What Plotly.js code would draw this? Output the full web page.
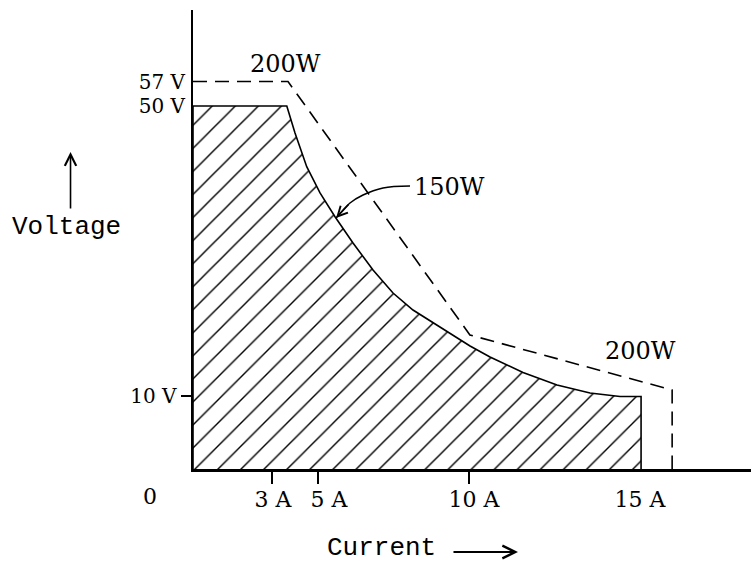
<!DOCTYPE html>
<html><head><meta charset="utf-8">
<script src="https://cdn.plot.ly/plotly-3.0.1.min.js"></script>
<style>html,body{margin:0;padding:0;background:#fff}#chart{width:751px;height:564px}</style>
</head><body><div id="chart"></div>
<script>
// Schematic drawing: current/voltage positions (15 A point = 15, 50 V line = 50)
const regionCurrent = [0, 0, 3.14, 3.415, 3.807, 4.252, 4.754, 5.357, 6.026, 6.696, 7.365, 7.934, 8.269, 9.274, 9.943, 11.048, 12.186, 13.291, 14.295, 15.0, 15.0];
const regionVoltage = [0, 50, 50, 46.28, 41.64, 38.02, 34.75, 31.13, 27.41, 24.24, 21.90, 20.39, 19.49, 16.94, 15.43, 13.29, 11.57, 10.47, 9.98, 9.98, 0];

const limitCurrent = [0, 3.18, 9.27, 16.04, 16.04];
const limitVoltage = [53.37, 53.37, 18.46, 10.88, 0];

const arrow150Current = [7.265, 6.361, 5.691, 5.256, 4.79];
const arrow150Voltage = [38.98, 38.71, 37.74, 36.64, 34.57];

const currentTickPos = [2.645, 4.18, 9.24];
const currentLabelPos = [2.678, 4.553, 9.407, 14.965];
const currentLabels = ['3 A', '5 A', '10 A', '15 A'];

const voltageTickPos = [10.06];
const voltageTickLabels = ['10 V'];
const voltageLabelPos = [49.95, 53.35];
const voltageLabels = ['50 V', '57 V'];

const powerLabels = ['200W', '150W', '200W'];

const XR = [0, 18.68], YR = [0, 63.22];
const serifFam = 'DejaVu Serif, serif';
const ySerif = {family: serifFam, size: 20, color: '#000'};
const xSerif = {family: serifFam, size: 22, color: '#000'};
const pSerif = {family: serifFam, size: 24, color: '#000'};
const mono = {family: 'Liberation Mono, monospace', size: 26, color: '#000'};

const traces = [
  {x: regionCurrent, y: regionVoltage, type: 'scatter', mode: 'lines', fill: 'toself',
   fillcolor: 'rgba(0,0,0,0)',
   fillpattern: {shape: '/', size: 16.3, solidity: 0.085, fgcolor: '#000', bgcolor: '#fff'},
   line: {color: '#000', width: 1.6}, hoverinfo: 'skip'},
  {x: limitCurrent, y: limitVoltage, xaxis: 'x2', yaxis: 'y2', type: 'scatter', mode: 'lines',
   line: {color: '#000', width: 1.6, dash: '14px,8px'}, hoverinfo: 'skip'},
  {x: arrow150Current, y: arrow150Voltage, type: 'scatter', mode: 'lines',
   line: {color: '#000', width: 1.5, shape: 'spline'}, hoverinfo: 'skip'}
];

const baseAxis = {showgrid: false, zeroline: false, fixedrange: true, color: '#000'};

const layout = {
  width: 751, height: 564,
  margin: {l: 193, r: 0, t: 10, b: 95, pad: 0},
  paper_bgcolor: '#fff', plot_bgcolor: '#fff',
  showlegend: false,
  xaxis: Object.assign({}, baseAxis, {range: XR, showline: true, linecolor: '#000', linewidth: 2.5,
    ticks: 'outside', ticklen: 12, tickwidth: 1.5, tickcolor: '#000',
    tickmode: 'array', tickvals: currentTickPos, showticklabels: false}),
  xaxis2: Object.assign({}, baseAxis, {range: XR, overlaying: 'x', anchor: 'y', side: 'bottom',
    showline: false, ticks: '', tickmode: 'array', tickvals: currentLabelPos, ticktext: currentLabels,
    tickfont: xSerif, ticklabelstandoff: 15}),
  yaxis: Object.assign({}, baseAxis, {range: YR, showline: true, linecolor: '#000', linewidth: 2.5,
    ticks: 'outside', ticklen: 10, tickwidth: 1.5, tickcolor: '#000',
    tickmode: 'array', tickvals: voltageTickPos, ticktext: voltageTickLabels, tickfont: ySerif}),
  yaxis2: Object.assign({}, baseAxis, {range: YR, overlaying: 'y', anchor: 'x', side: 'left',
    showline: false, ticks: '', tickmode: 'array', tickvals: voltageLabelPos, ticktext: voltageLabels,
    tickfont: ySerif, ticklabelstandoff: 7}),
  annotations: [
    {xref: 'x', yref: 'y', x: 3.097, y: 55.8, xanchor: 'center', yanchor: 'middle',
     text: powerLabels[0], showarrow: false, font: pSerif},
    {xref: 'x', yref: 'y', x: 7.33, y: 38.84, xanchor: 'left', yanchor: 'middle',
     text: powerLabels[1], showarrow: false, font: pSerif},
    {xref: 'x', yref: 'y', x: 14.98, y: 16.25, xanchor: 'center', yanchor: 'middle',
     text: powerLabels[2], showarrow: false, font: pSerif},
    // arrowhead at the end of the 150W leader
    {xref: 'x', yref: 'y', axref: 'x', ayref: 'y', x: arrow150Current[4], y: arrow150Voltage[4],
     ax: arrow150Current[3], ay: arrow150Voltage[3], text: '', showarrow: true,
     arrowhead: 5, arrowsize: 1.3, arrowwidth: 1.5, arrowcolor: '#000', standoff: 0},
    {xref: 'paper', yref: 'paper', x: -0.077, y: -0.061, xanchor: 'center', yanchor: 'middle',
     text: '0', showarrow: false, font: xSerif},
    {xref: 'paper', yref: 'paper', x: -0.2267, y: 0.527, xanchor: 'center', yanchor: 'middle',
     text: 'Voltage', showarrow: false, font: mono},
    {xref: 'paper', yref: 'paper', x: -0.2195, y: 0.6906, ax: 0, ay: 58, text: '', showarrow: true,
     arrowhead: 5, arrowsize: 1.4, arrowwidth: 1.6, arrowcolor: '#000', standoff: 0},
    {xref: 'paper', yref: 'paper', x: 0.3387, y: -0.1721, xanchor: 'center', yanchor: 'middle',
     text: 'Current', showarrow: false, font: mono},
    {xref: 'paper', yref: 'paper', x: 0.5824, y: -0.1808, ax: -66, ay: 0, text: '', showarrow: true,
     arrowhead: 5, arrowsize: 1.4, arrowwidth: 1.8, arrowcolor: '#000', standoff: 0}
  ]
};

Plotly.newPlot('chart', traces, layout, {displayModeBar: false, staticPlot: true});
</script>
</body></html>
